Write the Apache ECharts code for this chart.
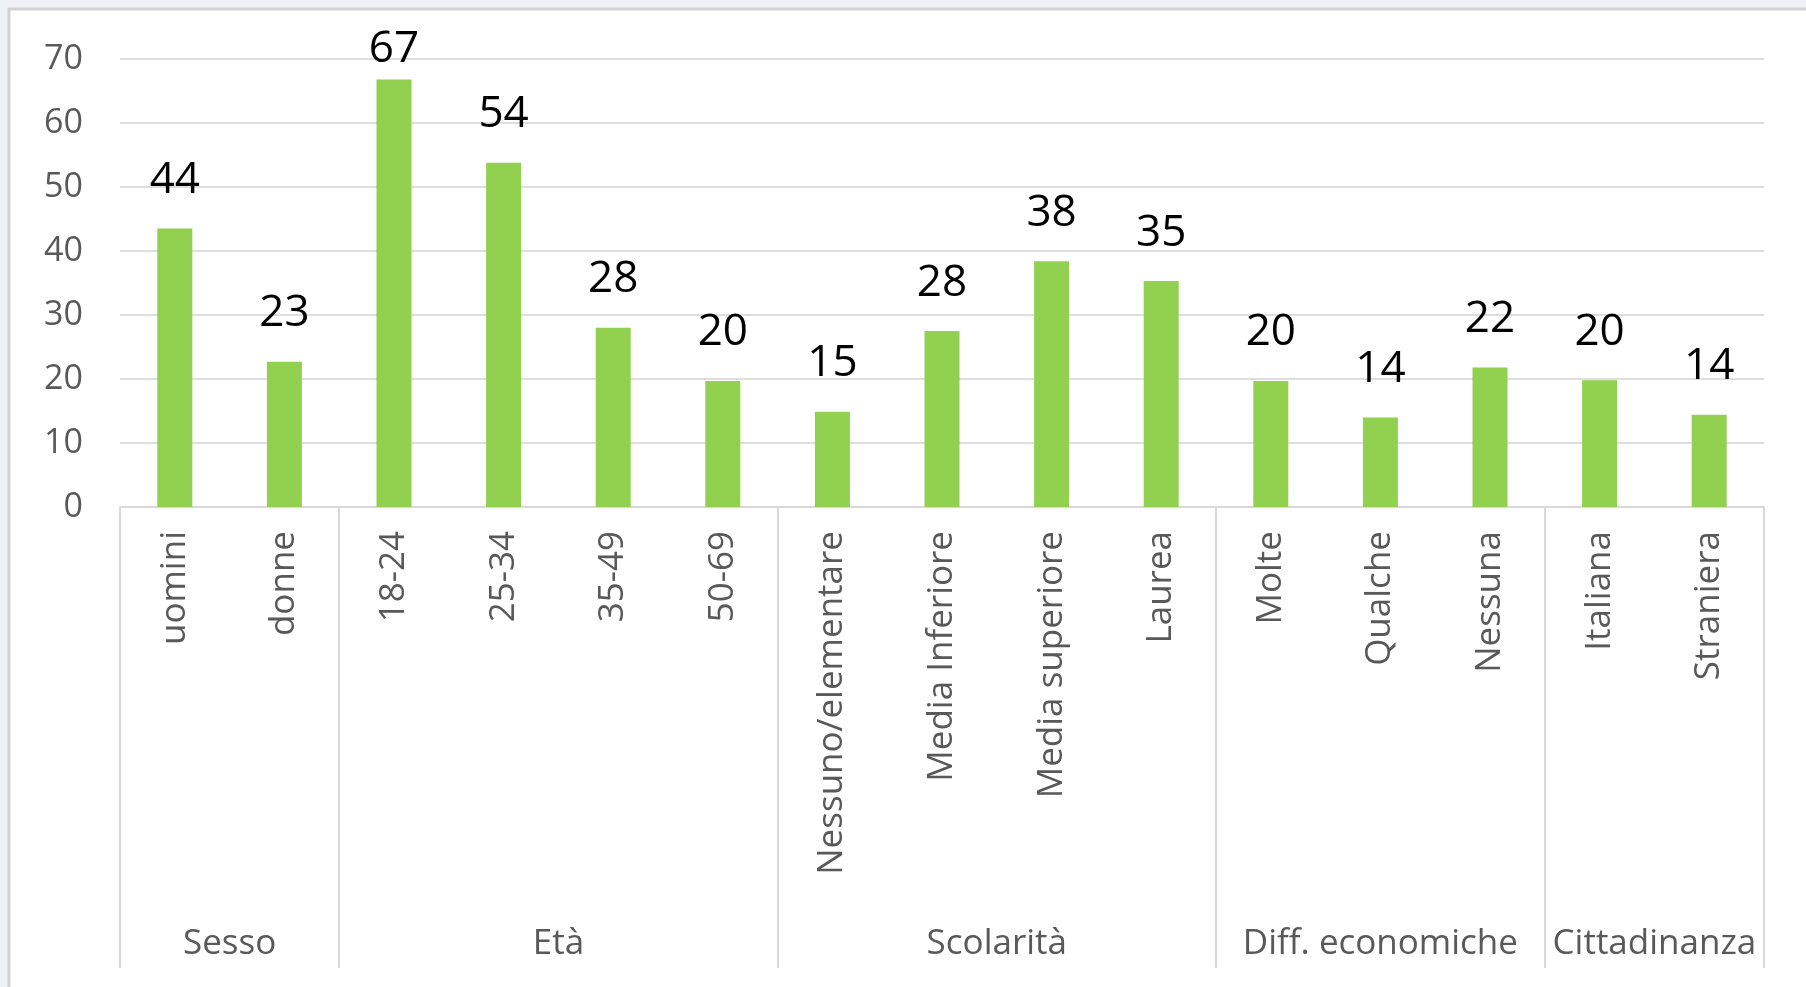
<!DOCTYPE html>
<html>
<head>
<meta charset="utf-8">
<script src="https://cdn.jsdelivr.net/npm/echarts@6/dist/echarts.min.js"></script>
<style>
  html, body { margin: 0; padding: 0; background: #eef2f7; }
  #chart { width: 1806px; height: 987px; }
</style>
</head>
<body>
<div id="chart"></div>
<script>
// categorie e valori
var categorie = ['uomini', 'donne', '18-24', '25-34', '35-49', '50-69',
    'Nessuno/elementare', 'Media Inferiore', 'Media superiore', 'Laurea',
    'Molte', 'Qualche', 'Nessuna', 'Italiana', 'Straniera'];
var valori = [43.5, 22.7, 66.8, 53.8, 28.0, 19.7, 14.9, 27.5, 38.4, 35.3, 19.7, 14.0, 21.8, 19.8, 14.4];
var gruppi = ['Sesso', 'Età', 'Scolarità', 'Diff. economiche', 'Cittadinanza'];
var dimGruppi = [2, 4, 4, 3, 2];
var yTicks = [0, 10, 20, 30, 40, 50, 60, 70];

// confini e centri dei gruppi in unità di categoria
var confini = [0];
var centri = [];
dimGruppi.forEach(function (n, i) {
    centri.push(confini[i] + n / 2);
    confini.push(confini[i] + n);
});

var font = '"Open Sans", "Noto Sans", sans-serif';
var grigio = '#595959';
var yMax = yTicks[yTicks.length - 1];

// come in Excel: l'etichetta che uscirebbe dall'area viene abbassata
var dati = valori.map(function (v) {
    if (v > yMax - 5) {
        return { value: v, label: { distance: 8 } };
    }
    return v;
});

var chart = echarts.init(document.getElementById('chart'));
var option = {
    backgroundColor: '#eef2f7',
    animation: false,
    graphic: [{
        type: 'rect',
        shape: { x: 9, y: 9, width: 1820, height: 1000 },
        style: { fill: '#ffffff', stroke: '#d2d2d2', lineWidth: 3 },
        z: -10
    }],
    grid: { left: 120, right: 42, top: 59, bottom: 480, containLabel: false },
    xAxis: [{
        type: 'category',
        data: categorie,
        axisLine: { show: true, lineStyle: { color: '#d9d9d9', width: 2 } },
        axisTick: { show: false },
        axisLabel: {
            rotate: 90,
            margin: 24,
            color: grigio,
            fontFamily: font,
            fontSize: 35,
            interval: 0
        }
    }, {
        type: 'value',
        min: 0,
        max: categorie.length,
        position: 'bottom',
        axisLine: { show: false },
        splitLine: { show: false },
        axisTick: {
            show: true,
            customValues: confini,
            length: 461,
            inside: false,
            lineStyle: { color: '#d9d9d9', width: 2 }
        },
        axisLabel: {
            customValues: centri,
            margin: 420,
            color: grigio,
            fontFamily: font,
            fontSize: 35,
            hideOverlap: false,
            formatter: function (v) {
                return gruppi[centri.indexOf(v)];
            }
        }
    }],
    yAxis: {
        type: 'value',
        min: yTicks[0],
        max: yMax,
        interval: 10,
        axisLine: { show: false },
        axisTick: { show: false },
        splitLine: { lineStyle: { color: '#dedede', width: 2 } },
        axisLabel: {
            margin: 37,
            color: grigio,
            fontFamily: font,
            fontSize: 34
        }
    },
    series: [{
        type: 'bar',
        data: dati,
        barWidth: 35,
        itemStyle: { color: '#92d050' },
        label: {
            show: true,
            position: 'top',
            distance: 26,
            color: '#000',
            fontFamily: font,
            fontSize: 44,
            formatter: function (p) {
                return Math.round(p.value);
            }
        }
    }]
};
chart.setOption(option);
</script>
</body>
</html>
